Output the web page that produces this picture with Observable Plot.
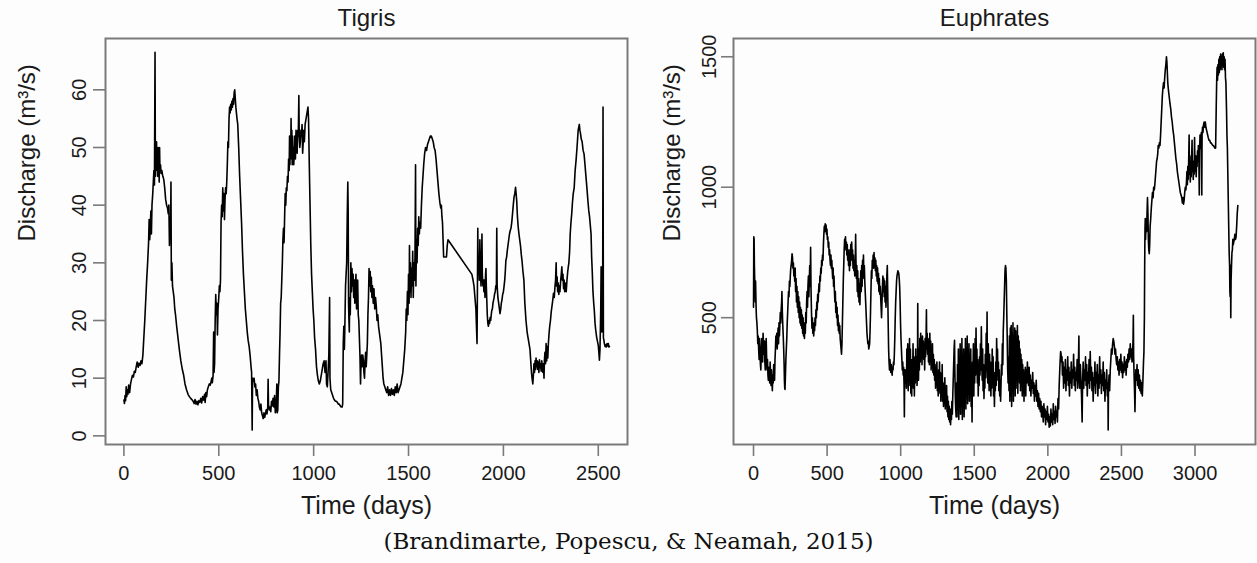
<!DOCTYPE html>
<html><head><meta charset="utf-8">
<script src="https://cdn.jsdelivr.net/npm/d3@7"></script>
<script src="https://cdn.jsdelivr.net/npm/@observablehq/plot@0.6"></script>
<style>
body{margin:0;background:#fdfdfd;}
#wrap{position:relative;width:1257px;height:563px;background:#fdfdfd;overflow:hidden;}
#left{position:absolute;left:0;top:0;}
#right{position:absolute;left:630px;top:0;}
#cap{position:absolute;left:0;width:1257px;top:528px;line-height:26px;text-align:center;font-family:"DejaVu Serif",serif;font-size:23px;color:#111;}
</style></head><body>
<div id="wrap"><div id="left"></div><div id="right"></div><div id="cap"></div></div>
<script>
const titles = ["Tigris", "Euphrates"];
const xLabel = "Time (days)";
const yLabel = "Discharge (m³/s)";
const caption = "(Brandimarte, Popescu, & Neamah, 2015)";
const tigrisXTicks = [0, 500, 1000, 1500, 2000, 2500];
const tigrisYTicks = [0, 10, 20, 30, 40, 50, 60];
const euphratesXTicks = [0, 500, 1000, 1500, 2000, 2500, 3000];
const euphratesYTicks = [500, 1000, 1500];

// Tigris daily discharge [day, m3/s]
const tigris = [
[0,6.2],[3,5.6],[6,7.0],[9,6.1],[12,8.5],[15,6.8],[18,8.0],[21,7.2],[25,8.8],[30,7.5],[35,9.0],[40,9.8],[45,10.5],[50,10.2],[55,11.2],[60,11.0],[65,12.0],[70,12.8],[75,11.9],[80,12.6],[85,12.2],[90,13.0],[95,12.5],[100,14.0],[105,17.0],[110,20.0],[115,23.5],[120,27.0],[125,30.0],[130,33.5],[133,37.5],[136,34.0],[139,36.0],[142,39.0],[145,35.0],[148,40.0],[152,42.0],[155,44.0],[158,46.0],[161,43.5],[164,66.5],[166,45.0],[168,50.0],[170,46.0],[172,51.0],[174,47.0],[176,49.5],[178,45.0],[180,50.0],[182,46.5],[184,48.0],[186,44.0],[188,50.0],[190,46.0],[193,47.0],[196,45.5],[200,46.0],[205,45.0],[210,44.5],[215,43.0],[220,41.0],[225,40.0],[230,39.5],[234,38.5],[237,40.0],[240,33.0],[243,38.0],[246,35.0],[248,44.0],[250,27.0],[253,30.0],[256,26.0],[260,25.0],[264,24.0],[268,22.0],[272,21.0],[278,19.0],[285,17.0],[292,15.0],[300,13.0],[308,11.5],[315,10.5],[322,9.0],[330,8.0],[338,7.2],[345,6.8],[352,6.5],[360,6.2],[365,6.0],[370,5.6],[375,6.3],[380,5.5],[385,6.0],[390,5.4],[395,6.1],[400,5.8],[405,6.5],[410,5.7],[415,6.8],[420,6.2],[425,7.2],[428,5.8],[432,7.5],[436,6.8],[440,8.0],[445,8.5],[450,9.0],[455,8.8],[460,9.5],[463,10.0],[466,9.2],[470,10.5],[473,18.0],[475,11.0],[478,12.5],[481,20.0],[484,24.5],[487,21.0],[490,23.0],[493,17.5],[496,22.0],[500,24.0],[503,26.0],[506,25.0],[509,27.0],[512,37.0],[515,40.0],[518,38.0],[521,43.0],[524,39.0],[527,42.0],[530,37.5],[533,41.0],[536,43.0],[539,42.0],[542,44.0],[545,47.0],[548,51.0],[551,50.0],[554,55.0],[557,57.0],[560,56.0],[563,57.5],[566,56.5],[569,58.0],[572,57.0],[575,58.5],[578,57.5],[581,59.5],[584,60.0],[587,58.5],[590,57.0],[593,56.0],[596,55.0],[600,54.0],[605,50.0],[610,45.0],[615,41.0],[620,37.0],[625,32.0],[630,28.0],[635,25.0],[640,22.0],[645,20.0],[650,18.0],[655,16.5],[660,15.5],[665,14.0],[670,12.0],[673,11.0],[676,1.0],[678,10.0],[682,9.5],[686,10.0],[690,8.5],[694,9.0],[698,7.0],[702,8.0],[706,6.5],[710,6.0],[714,5.0],[718,4.5],[722,5.5],[726,4.0],[730,3.5],[734,3.0],[738,4.0],[742,3.2],[746,3.8],[750,4.5],[754,3.8],[758,5.0],[760,9.8],[762,5.5],[766,4.5],[770,5.0],[774,4.2],[778,6.0],[782,5.2],[786,6.5],[790,5.0],[794,7.0],[798,4.0],[802,5.0],[806,9.0],[808,4.0],[811,4.5],[814,8.5],[817,9.5],[820,14.0],[823,18.0],[826,23.0],[829,24.0],[832,27.0],[835,30.0],[838,34.0],[841,36.0],[844,33.5],[847,38.0],[850,42.0],[853,40.0],[856,43.0],[859,42.5],[862,45.0],[865,44.0],[868,48.0],[871,46.0],[873,52.0],[875,47.0],[877,51.0],[879,49.0],[881,55.0],[883,48.0],[885,53.0],[887,47.0],[889,52.0],[891,48.0],[893,50.0],[895,47.0],[898,49.0],[901,52.0],[904,48.0],[907,53.0],[910,51.0],[913,49.0],[916,53.0],[919,52.0],[922,59.0],[924,52.0],[927,50.0],[930,51.0],[933,53.0],[936,52.0],[939,54.0],[942,49.0],[945,51.0],[948,53.0],[951,51.0],[955,54.0],[960,55.0],[965,56.0],[970,57.0],[973,55.0],[977,47.0],[981,40.0],[985,33.0],[989,28.0],[993,25.0],[997,22.0],[1001,20.0],[1005,17.0],[1010,15.0],[1015,12.0],[1020,10.5],[1025,9.5],[1030,9.0],[1035,9.5],[1040,10.5],[1045,11.5],[1050,12.5],[1055,13.0],[1060,11.0],[1065,13.0],[1068,9.0],[1072,8.5],[1076,11.0],[1080,14.0],[1084,24.0],[1086,10.0],[1090,8.0],[1095,7.5],[1100,7.0],[1105,6.5],[1110,6.2],[1115,6.0],[1120,6.0],[1125,5.8],[1130,5.5],[1135,5.5],[1140,5.2],[1145,5.0],[1150,5.0],[1153,5.5],[1156,16.0],[1159,19.0],[1162,15.0],[1165,20.0],[1168,26.0],[1171,28.0],[1174,30.0],[1177,38.0],[1180,44.0],[1182,39.0],[1184,23.0],[1186,20.0],[1188,18.0],[1190,24.0],[1193,21.0],[1196,30.0],[1199,25.0],[1202,29.0],[1205,26.0],[1208,28.0],[1211,24.0],[1214,27.0],[1217,23.0],[1220,26.0],[1223,28.0],[1226,22.0],[1229,25.0],[1232,27.0],[1235,21.0],[1238,20.0],[1241,17.0],[1244,14.0],[1247,9.0],[1250,13.0],[1253,14.0],[1256,12.0],[1259,14.0],[1262,13.0],[1265,11.0],[1268,10.0],[1271,13.0],[1274,14.5],[1277,12.0],[1280,14.0],[1283,16.0],[1286,21.0],[1289,24.0],[1292,29.0],[1295,26.0],[1298,28.5],[1301,25.0],[1304,27.5],[1307,24.0],[1310,26.0],[1314,23.0],[1318,25.5],[1322,22.0],[1326,24.0],[1330,22.5],[1334,20.0],[1338,21.0],[1342,19.0],[1346,18.0],[1350,17.0],[1354,16.0],[1358,14.0],[1362,12.0],[1366,10.0],[1370,9.0],[1375,8.5],[1380,8.0],[1385,7.5],[1390,8.5],[1395,7.0],[1400,8.0],[1405,7.0],[1410,8.2],[1415,7.2],[1420,8.0],[1425,7.0],[1430,8.5],[1435,7.5],[1440,9.0],[1445,7.5],[1450,8.0],[1455,8.5],[1460,9.0],[1465,10.0],[1470,11.0],[1475,13.0],[1480,15.0],[1485,18.0],[1488,22.0],[1491,20.0],[1494,25.0],[1497,21.0],[1500,28.0],[1503,23.0],[1505,33.0],[1507,25.0],[1510,30.0],[1513,24.0],[1516,29.0],[1519,26.0],[1522,32.0],[1525,24.0],[1528,30.0],[1531,27.0],[1534,31.0],[1537,47.0],[1539,26.0],[1542,34.0],[1545,30.0],[1548,36.0],[1551,33.0],[1554,38.0],[1557,35.0],[1560,37.0],[1564,36.0],[1568,40.0],[1572,43.0],[1576,45.0],[1580,47.0],[1585,49.0],[1590,50.0],[1595,49.5],[1600,50.5],[1605,51.0],[1610,51.5],[1615,52.0],[1620,52.0],[1625,51.5],[1630,51.0],[1635,50.0],[1640,49.5],[1645,48.0],[1650,46.0],[1655,44.0],[1660,42.0],[1665,40.5],[1670,39.5],[1673,40.0],[1676,38.0],[1679,37.0],[1682,34.0],[1685,31.0],[1690,31.0],[1695,31.0],[1700,31.0],[1704,33.0],[1708,34.0],
[1834,28.0],[1840,27.0],[1845,26.0],[1850,24.0],[1855,22.0],[1858,19.0],[1861,16.0],[1863,25.0],[1865,36.0],[1867,28.0],[1870,31.0],[1873,27.0],[1876,34.0],[1879,29.0],[1882,26.0],[1885,30.0],[1887,35.0],[1889,28.0],[1892,26.0],[1895,27.0],[1897,25.0],[1900,27.0],[1903,24.0],[1906,28.0],[1908,29.0],[1910,26.0],[1912,24.0],[1915,21.0],[1918,19.5],[1921,19.0],[1924,20.0],[1927,19.5],[1930,20.5],[1933,20.0],[1936,21.0],[1939,21.8],[1942,22.0],[1945,23.0],[1948,23.5],[1951,24.0],[1954,24.7],[1957,25.0],[1960,26.0],[1963,25.5],[1965,36.0],[1967,26.0],[1971,24.0],[1975,23.0],[1979,22.0],[1982,21.2],[1986,22.0],[1989,23.0],[1992,23.5],[1996,24.5],[2000,25.0],[2003,25.8],[2007,27.0],[2010,28.5],[2013,30.4],[2017,31.0],[2020,32.0],[2024,33.0],[2028,34.0],[2032,35.0],[2036,35.6],[2040,36.0],[2044,37.0],[2048,38.5],[2052,40.0],[2056,41.4],[2060,42.0],[2064,43.1],[2067,42.0],[2070,40.8],[2074,38.0],[2078,36.2],[2082,35.0],[2086,34.0],[2090,33.0],[2094,31.5],[2098,30.4],[2103,28.5],[2108,27.0],[2113,23.0],[2119,20.0],[2125,18.0],[2130,17.0],[2135,16.0],[2140,15.0],[2144,13.0],[2148,11.0],[2151,10.0],[2155,9.0],[2158,10.5],[2161,12.5],[2164,11.0],[2167,13.0],[2170,11.5],[2172,13.5],[2175,12.0],[2178,13.0],[2181,11.5],[2184,12.8],[2187,11.0],[2190,13.2],[2193,11.8],[2196,12.5],[2199,11.2],[2202,13.0],[2205,12.0],[2208,11.0],[2211,12.5],[2214,10.0],[2216,13.0],[2219,14.5],[2222,12.5],[2225,16.0],[2228,13.0],[2231,15.5],[2234,13.5],[2237,16.0],[2240,17.5],[2244,19.0],[2248,20.0],[2252,21.5],[2256,22.5],[2260,23.5],[2264,24.7],[2268,24.0],[2272,26.0],[2275,27.0],[2278,30.0],[2280,26.0],[2283,27.6],[2286,25.0],[2289,26.5],[2292,24.5],[2295,26.0],[2298,25.0],[2302,27.0],[2305,28.0],[2308,29.3],[2311,27.0],[2314,28.0],[2317,25.5],[2320,27.0],[2323,25.0],[2327,26.5],[2331,25.0],[2335,27.0],[2339,28.5],[2342,29.3],[2345,30.0],[2349,32.0],[2352,35.0],[2356,37.0],[2360,38.5],[2364,40.5],[2368,42.0],[2373,43.0],[2378,46.0],[2383,47.8],[2388,50.0],[2394,53.0],[2397,53.5],[2400,54.0],[2403,53.0],[2406,52.5],[2410,51.5],[2415,51.0],[2420,49.5],[2425,48.9],[2430,47.0],[2435,45.0],[2441,42.6],[2446,40.5],[2450,39.0],[2454,38.0],[2458,36.5],[2462,35.0],[2465,31.0],[2468,28.7],[2472,25.0],[2476,23.0],[2479,21.8],[2483,19.5],[2486,18.5],[2489,17.7],[2492,17.0],[2495,16.5],[2500,15.7],[2503,14.5],[2506,13.1],[2509,15.0],[2511,18.3],[2513,22.0],[2515,29.3],[2517,20.0],[2519,18.0],[2521,20.0],[2523,22.0],[2525,57.0],[2527,17.0],[2530,16.5],[2532,16.0],[2536,15.5],[2540,15.8],[2542,15.4],[2546,16.0],[2550,15.6],[2553,16.0],[2556,15.4],[2559,15.5]
];

// Euphrates daily discharge [day, m3/s]
const euphrates = [
[0,540],[2,810],[4,800],[6,700],[8,650],[10,600],[12,560],[14,640],[16,580],[18,530],[20,500],[23,480],[26,450],[29,400],[32,430],[35,380],[38,340],[41,420],[44,360],[47,320],[50,300],[53,380],[56,420],[59,350],[62,330],[65,440],[68,400],[71,360],[74,410],[77,330],[80,300],[83,380],[86,420],[89,350],[92,300],[95,340],[98,280],[101,260],[104,310],[107,290],[110,250],[113,330],[116,280],[119,240],[122,300],[125,260],[128,220],[131,280],[134,250],[137,320],[140,300],[143,260],[146,340],[149,380],[152,430],[155,400],[158,440],[161,380],[164,420],[167,460],[170,400],[173,480],[176,430],[179,470],[182,520],[185,480],[188,530],[191,560],[193,600],[196,520],[199,470],[202,430],[205,380],[208,320],[210,260],[212,230],[214,225],[217,280],[220,340],[223,380],[226,420],[229,480],[232,520],[235,560],[238,600],[241,580],[244,640],[247,620],[250,660],[253,690],[256,700],[259,720],[262,745],[265,730],[268,690],[271,710],[274,660],[277,680],[280,640],[283,690],[286,600],[289,650],[292,560],[295,620],[298,540],[301,600],[304,520],[307,580],[310,500],[313,560],[316,480],[319,540],[322,470],[325,530],[328,460],[331,510],[334,440],[337,500],[340,430],[343,480],[346,420],[349,470],[352,440],[355,520],[358,480],[361,560],[364,600],[367,540],[370,620],[373,660],[376,580],[379,640],[382,700],[385,620],[388,770],[391,600],[394,520],[397,460],[400,500],[403,440],[406,480],[409,430],[412,470],[415,450],[418,500],[421,470],[424,530],[427,500],[430,560],[433,530],[436,590],[439,560],[442,600],[445,630],[448,600],[451,660],[454,640],[457,690],[460,670],[463,720],[466,700],[469,740],[472,720],[475,780],[478,820],[481,850],[484,830],[487,860],[490,845],[493,855],[496,820],[499,840],[502,800],[505,810],[508,770],[511,790],[514,740],[517,760],[520,720],[523,700],[526,740],[529,690],[532,720],[535,680],[538,650],[541,690],[544,620],[547,660],[550,600],[553,560],[556,600],[559,520],[562,560],[565,500],[568,540],[571,470],[574,510],[577,450],[580,480],[583,440],[586,470],[589,420],[592,400],[595,380],[598,360],[601,400],[604,480],[607,560],[610,640],[613,700],[616,760],[619,800],[622,780],[625,810],[628,760],[631,790],[634,740],[637,780],[640,720],[643,760],[646,700],[649,740],[652,680],[655,760],[658,700],[661,780],[664,720],[667,790],[670,740],[673,760],[676,690],[679,740],[682,680],[685,720],[688,660],[691,700],[694,820],[696,720],[699,650],[702,700],[705,600],[708,680],[711,580],[714,650],[717,560],[720,630],[723,550],[726,620],[729,680],[732,600],[735,700],[738,620],[741,720],[744,650],[747,740],[750,660],[753,700],[756,640],[759,600],[762,560],[765,520],[768,480],[771,440],[774,420],[777,400],[780,410],[783,380],[786,390],[789,400],[792,450],[795,520],[798,600],[801,680],[804,650],[807,720],[810,700],[813,740],[816,690],[819,750],[822,700],[825,730],[828,680],[831,720],[834,660],[837,700],[840,640],[843,690],[846,630],[849,670],[852,600],[855,650],[858,590],[861,620],[864,580],[867,540],[870,500],[873,560],[876,620],[879,660],[882,600],[885,650],[888,580],[891,640],[894,560],[897,620],[900,540],[903,600],[906,660],[909,700],[912,600],[915,480],[918,380],[921,330],[924,300],[927,340],[930,310],[933,290],[936,320],[939,300],[942,280],[945,310],[948,300],[951,330],[954,320],[957,360],[960,420],[963,500],[966,560],[969,600],[972,640],[975,660],[978,670],[981,680],[984,675],[987,670],[990,650],[993,620],[996,560],[999,480],[1002,420],[1005,380],[1008,340],[1011,300],[1014,330],[1017,280],[1020,310],[1023,240],[1025,120],[1027,260],[1030,300],[1033,250],[1036,290],[1039,230],[1042,380],[1045,260],[1048,400],[1051,220],[1054,360],[1057,240],[1060,420],[1063,280],[1066,380],[1069,210],[1072,340],[1075,200],[1078,320],[1081,260],[1084,400],[1087,230],[1090,350],[1093,200],[1096,330],[1099,250],[1102,380],[1105,270],[1108,350],[1111,240],[1114,300],[1116,554],[1118,320],[1121,260],[1124,380],[1127,300],[1130,420],[1133,330],[1136,440],[1139,360],[1142,400],[1145,320],[1148,430],[1151,350],[1154,410],[1157,340],[1160,390],[1163,300],[1166,420],[1169,350],[1172,400],[1175,530],[1177,380],[1180,440],[1183,360],[1186,420],[1189,330],[1192,400],[1195,320],[1198,440],[1201,350],[1204,410],[1207,300],[1210,380],[1213,320],[1216,400],[1219,290],[1222,360],[1225,280],[1228,340],[1231,260],[1234,320],[1237,230],[1240,300],[1243,250],[1246,330],[1249,220],[1252,280],[1255,200],[1258,300],[1261,240],[1264,330],[1267,210],[1270,290],[1273,180],[1276,260],[1279,200],[1282,320],[1285,180],[1288,250],[1291,160],[1294,230],[1297,190],[1300,270],[1303,150],[1306,220],[1309,170],[1312,240],[1315,140],[1318,200],[1321,120],[1324,180],[1327,110],[1330,160],[1333,100],[1336,150],[1339,90],[1342,140],[1345,110],[1348,180],[1351,130],[1354,200],[1357,260],[1360,320],[1363,380],[1366,413],[1368,300],[1371,200],[1374,150],[1377,120],[1380,250],[1383,120],[1386,320],[1389,150],[1392,380],[1395,110],[1398,300],[1401,180],[1404,400],[1407,130],[1410,350],[1413,160],[1416,420],[1419,110],[1422,330],[1425,190],[1428,380],[1431,120],[1434,300],[1437,200],[1440,420],[1443,150],[1446,350],[1449,210],[1452,430],[1455,170],[1458,320],[1461,240],[1464,400],[1467,180],[1470,300],[1473,220],[1476,380],[1479,160],[1482,280],[1485,100],[1488,330],[1491,250],[1494,400],[1497,200],[1500,350],[1503,250],[1506,420],[1509,280],[1512,460],[1515,300],[1518,380],[1521,250],[1524,340],[1527,200],[1530,300],[1533,240],[1536,350],[1539,280],[1542,400],[1545,300],[1548,465],[1551,330],[1554,260],[1557,380],[1560,220],[1563,320],[1566,190],[1569,280],[1572,230],[1575,360],[1578,270],[1581,440],[1584,300],[1587,522],[1589,310],[1592,250],[1595,400],[1598,300],[1601,220],[1604,360],[1607,260],[1610,330],[1613,200],[1616,300],[1619,230],[1622,380],[1625,250],[1628,350],[1631,200],[1634,290],[1637,160],[1640,260],[1643,220],[1646,330],[1649,240],[1652,420],[1655,300],[1658,380],[1661,260],[1664,330],[1667,220],[1670,300],[1673,200],[1676,260],[1679,180],[1682,250],[1685,320],[1688,280],[1691,400],[1694,320],[1697,450],[1700,500],[1703,560],[1706,620],[1709,680],[1712,700],[1715,690],[1718,640],[1721,520],[1724,420],[1727,300],[1730,250],[1733,350],[1736,220],[1739,430],[1742,180],[1745,460],[1748,200],[1751,470],[1754,160],[1757,440],[1760,220],[1763,480],[1766,180],[1769,420],[1772,250],[1775,460],[1778,200],[1781,450],[1784,230],[1787,400],[1790,260],[1793,470],[1796,210],[1799,430],[1802,280],[1805,410],[1808,250],[1811,380],[1814,220],[1817,360],[1820,260],[1823,340],[1826,200],[1829,320],[1832,250],[1835,300],[1838,180],[1841,280],[1844,230],[1847,310],[1850,200],[1853,300],[1857,250],[1861,330],[1865,270],[1869,240],[1873,310],[1877,220],[1881,280],[1885,200],[1889,260],[1893,230],[1897,290],[1901,210],[1905,250],[1909,180],[1913,240],[1917,200],[1921,260],[1925,180],[1929,220],[1933,160],[1937,210],[1941,150],[1945,190],[1949,140],[1953,180],[1957,120],[1961,160],[1965,140],[1969,100],[1973,170],[1977,120],[1981,150],[1985,90],[1989,140],[1993,110],[1997,160],[2001,100],[2005,130],[2009,80],[2013,120],[2017,85],[2021,150],[2025,100],[2029,130],[2033,90],[2037,170],[2041,110],[2045,140],[2049,95],[2053,160],[2057,120],[2061,140],[2065,100],[2069,190],[2073,150],[2077,240],[2081,300],[2084,340],[2087,370],[2090,360],[2093,330],[2096,350],[2099,280],[2103,330],[2107,230],[2111,310],[2115,250],[2119,340],[2123,220],[2127,300],[2131,260],[2135,350],[2139,240],[2143,310],[2147,200],[2151,290],[2155,250],[2159,330],[2163,230],[2167,300],[2171,270],[2175,360],[2179,240],[2183,310],[2187,220],[2191,290],[2195,260],[2199,340],[2203,230],[2207,300],[2211,430],[2213,280],[2217,230],[2221,320],[2225,260],[2229,200],[2233,100],[2236,250],[2240,330],[2244,230],[2248,300],[2252,260],[2256,350],[2260,240],[2264,320],[2268,200],[2272,290],[2276,250],[2280,340],[2284,230],[2288,370],[2292,260],[2296,310],[2300,220],[2304,290],[2308,180],[2312,270],[2316,240],[2320,330],[2324,210],[2328,290],[2332,250],[2336,320],[2340,200],[2344,280],[2348,230],[2352,350],[2356,250],[2360,300],[2364,210],[2368,280],[2372,240],[2376,330],[2380,220],[2384,290],[2388,180],[2392,260],[2396,230],[2400,300],[2404,200],[2408,250],[2410,70],[2412,230],[2416,280],[2420,220],[2424,300],[2428,340],[2432,380],[2436,360],[2440,400],[2444,420],[2448,410],[2452,390],[2456,360],[2460,380],[2464,340],[2468,320],[2472,350],[2476,300],[2480,330],[2484,280],[2488,340],[2492,300],[2496,360],[2500,290],[2504,330],[2508,270],[2512,320],[2516,290],[2520,350],[2524,300],[2528,330],[2532,280],[2536,340],[2540,310],[2544,360],[2548,330],[2552,380],[2556,340],[2560,400],[2564,350],[2568,380],[2572,330],[2576,360],[2579,420],[2581,509],[2583,350],[2586,280],[2589,220],[2592,140],[2595,250],[2598,300],[2602,260],[2606,320],[2610,240],[2614,300],[2618,230],[2622,280],[2626,220],[2630,260],[2634,210],[2638,250],[2642,200],[2646,260],[2650,330],[2653,370],[2656,500],[2658,700],[2660,840],[2662,880],[2664,800],[2666,840],[2668,860],[2671,830],[2674,900],[2677,960],[2680,900],[2683,800],[2686,760],[2689,745],[2692,780],[2695,850],[2699,880],[2703,920],[2707,950],[2711,980],[2715,960],[2719,1000],[2723,990],[2727,1010],[2731,1040],[2735,1070],[2739,1100],[2743,1110],[2747,1130],[2750,1160],[2754,1150],[2758,1170],[2762,1160],[2766,1200],[2770,1250],[2774,1300],[2778,1350],[2782,1380],[2786,1400],[2790,1380],[2794,1420],[2798,1450],[2802,1470],[2806,1500],[2809,1480],[2812,1440],[2815,1400],[2818,1380],[2822,1360],[2826,1340],[2830,1320],[2835,1300],[2840,1270],[2845,1250],[2850,1220],[2855,1200],[2860,1170],[2865,1140],[2870,1110],[2875,1090],[2880,1060],[2885,1040],[2890,1020],[2895,1000],[2900,980],[2905,970],[2910,960],[2914,940],[2918,960],[2922,935],[2926,950],[2930,980],[2934,1000],[2938,990],[2942,1020],[2945,1060],[2948,1010],[2951,1080],[2954,1030],[2957,1100],[2960,1200],[2962,1050],[2965,1120],[2968,1020],[2971,1090],[2974,1040],[2977,1110],[2980,1180],[2982,1060],[2985,1100],[2988,1030],[2991,1080],[2994,1050],[2997,1190],[2999,1100],[3002,1060],[3005,1120],[3008,1040],[3011,1100],[3014,1080],[3017,1140],[3020,1100],[3023,1160],[3026,1120],[3029,970],[3031,1130],[3034,1200],[3037,1150],[3040,1180],[3043,1210],[3046,970],[3048,1200],[3051,1230],[3054,1210],[3058,1240],[3062,1250],[3066,1230],[3070,1250],[3074,1230],[3078,1220],[3082,1210],[3086,1200],[3090,1190],[3095,1180],[3100,1180],[3105,1170],[3110,1170],[3115,1165],[3120,1160],[3125,1160],[3130,1155],[3135,1150],[3140,1150],[3144,1300],[3147,1400],[3150,1460],[3153,1410],[3156,1470],[3159,1430],[3162,1490],[3165,1440],[3168,1500],[3171,1450],[3174,1510],[3177,1460],[3180,1500],[3183,1450],[3186,1510],[3189,1470],[3192,1515],[3195,1460],[3198,1500],[3201,1450],[3204,1490],[3207,1420],[3210,1400],[3214,1300],[3217,1200],[3220,1150],[3223,1050],[3226,950],[3229,850],[3232,750],[3235,700],[3237,600],[3239,580],[3241,700],[3243,500],[3245,640],[3248,700],[3251,750],[3254,760],[3257,800],[3260,780],[3263,790],[3267,800],[3271,820],[3275,800],[3279,810],[3283,850],[3287,900],[3291,930]
];

const FONT = "'Liberation Sans', Arial, Helvetica, sans-serif";
const GREY = "#7a7a7a";

function panel({series, title, xDomain, yDomain, xTicks, yTicks, width, marginLeft, marginRight, yTickPad, yLabOffset}) {
  const data = series.map(([day, q]) => ({day, q}));
  return Plot.plot({
    width, height: 530,
    marginLeft, marginRight, marginTop: 38, marginBottom: 86,
    style: {fontFamily: FONT, color: "#1a1a1a", background: "transparent", overflow: "visible"},
    x: {domain: xDomain},
    y: {domain: yDomain},
    marks: [
      Plot.line(data, {x: "day", y: "q", stroke: "#000", strokeWidth: 1.6}),
      Plot.frame({stroke: GREY, strokeWidth: 2}),
      Plot.axisX({ticks: xTicks, tickSize: 12, tickPadding: 17, tickFormat: d => String(d), stroke: GREY, strokeWidth: 1.6, fontSize: 20, lineAnchor: "middle", label: null}),
      Plot.axisY({ticks: yTicks, tickSize: 12, tickFormat: () => "", stroke: GREY, strokeWidth: 1.6, label: null}),
      Plot.text(yTicks, {y: d => d, text: d => String(d), frameAnchor: "left", dx: -(12 + yTickPad), rotate: -90, textAnchor: "middle", lineAnchor: "middle", fontSize: 20}),
      Plot.text([title], {text: d => d, frameAnchor: "top", dy: -20, lineAnchor: "middle", fontSize: 24}),
      Plot.text([xLabel], {text: d => d, frameAnchor: "bottom", dy: 61, lineAnchor: "middle", fontSize: 25}),
      Plot.text([yLabel], {text: d => d, frameAnchor: "left", dx: -yLabOffset, rotate: -90, lineAnchor: "middle", fontSize: 24})
    ]
  });
}

document.getElementById("left").append(panel({
  series: tigris, title: titles[0],
  xDomain: [-97, 2654], yDomain: [-1.5, 68.9],
  xTicks: tigrisXTicks, yTicks: tigrisYTicks,
  width: 630, marginLeft: 105, marginRight: 3, yTickPad: 14, yLabOffset: 78
}));
document.getElementById("right").append(panel({
  series: euphrates, title: titles[1],
  xDomain: [-136, 3411], yDomain: [14, 1570],
  xTicks: euphratesXTicks, yTicks: euphratesYTicks,
  width: 627, marginLeft: 103, marginRight: 2, yTickPad: 12, yLabOffset: 61
}));
document.getElementById("cap").textContent = caption;
</script>
</body></html>
